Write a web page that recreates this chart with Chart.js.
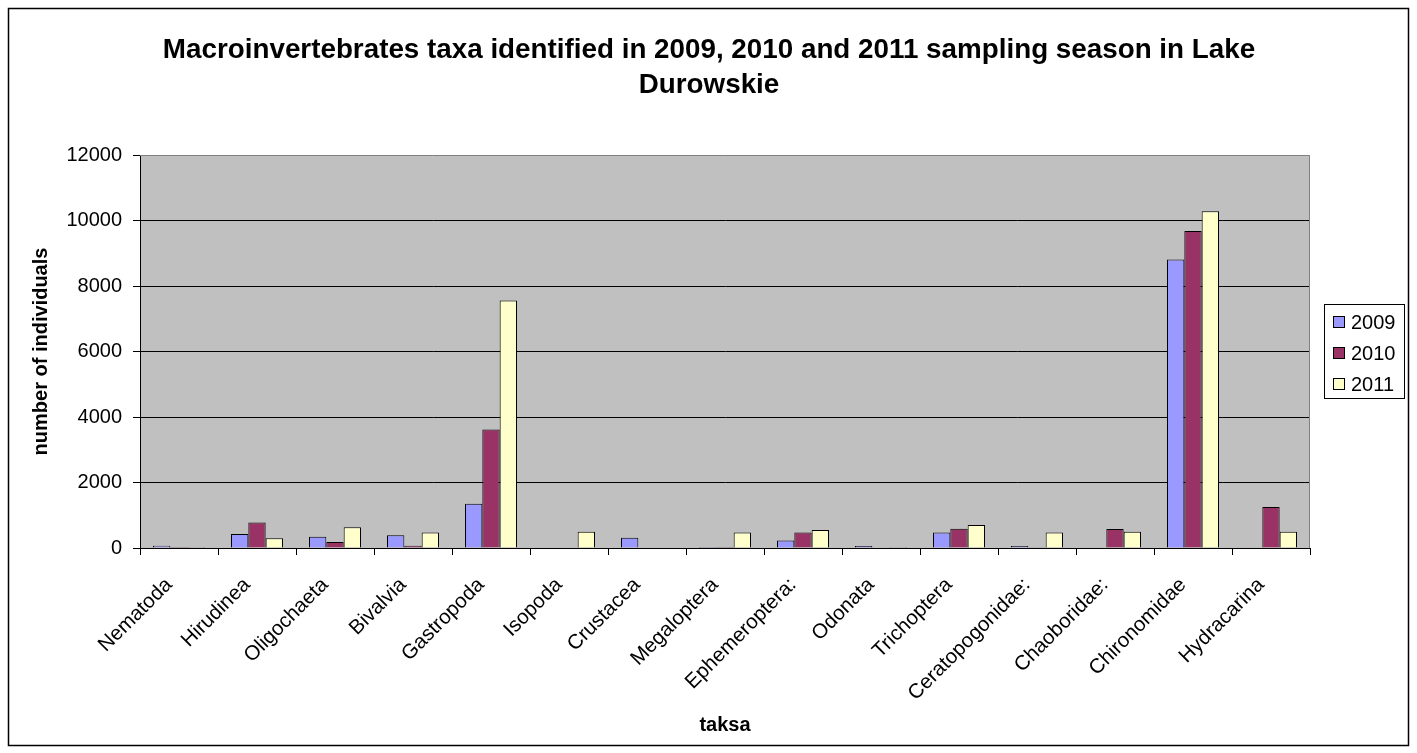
<!DOCTYPE html>
<html>
<head>
<meta charset="utf-8">
<title>Macroinvertebrates taxa - Lake Durowskie</title>
<script src="https://cdn.jsdelivr.net/npm/chart.js@4/dist/chart.umd.min.js"></script>
<style>
  html, body { margin:0; padding:0; background:#fff; }
  #wrap { width:1417px; height:753px; position:relative; }
</style>
</head>
<body>
<div id="wrap"><canvas id="chart" width="1417" height="753"></canvas></div>
<script>
// data
const taxa = ['Nematoda','Hirudinea','Oligochaeta','Bivalvia','Gastropoda','Isopoda','Crustacea',
  'Megaloptera','Ephemeroptera:','Odonata','Trichoptera','Ceratopogonidae:','Chaoboridae:','Chironomidae','Hydracarina'];
const years = ['2009','2010','2011'];
const y2009 = [70, 430, 340, 390, 1350, 0, 310, 30, 230, 60, 470, 60, 0, 8810, 0];
const y2010 = [30, 780, 180, 70, 3620, 0, 0, 30, 470, 0, 590, 20, 580, 9680, 1250];
const y2011 = [30, 300, 630, 470, 7560, 500, 0, 470, 550, 30, 700, 470, 500, 10280, 500];
const yTicks = [0, 2000, 4000, 6000, 8000, 10000, 12000];

const titleLines = ['Macroinvertebrates taxa identified in 2009, 2010 and 2011 sampling season in Lake', 'Durowskie'];
const yTitle = 'number of individuals';
const xTitle = 'taksa';
const colors = ['#9999FF', '#993366', '#FFFFCC'];

const FONT = '"Liberation Sans", Arial, sans-serif';
Chart.defaults.font.family = FONT;
Chart.defaults.font.size = 20;
Chart.defaults.color = '#000';

// frame, plot background, titles and legend drawn around the chart
const decor = {
  id:'decor',
  beforeDraw(chart){
    const c = chart.ctx, a = chart.chartArea;
    c.save();
    c.fillStyle = '#fff';
    c.fillRect(0, 0, chart.width, chart.height);
    c.fillStyle = '#C0C0C0';
    c.fillRect(a.left, a.top, a.right - a.left, a.bottom - a.top);
    c.restore();
  },
  afterDraw(chart){
    const c = chart.ctx, a = chart.chartArea;
    c.save();
    // plot border
    c.strokeStyle = '#808080'; c.lineWidth = 1;
    c.beginPath();
    c.moveTo(a.left, a.top + 0.5); c.lineTo(a.right - 0.5, a.top + 0.5); c.lineTo(a.right - 0.5, a.bottom);
    c.stroke();
    // outer frame
    c.strokeStyle = '#000'; c.lineWidth = 1.5;
    c.strokeRect(8.5, 8.5, 1400, 737);
    // title
    c.fillStyle = '#000';
    c.textAlign = 'center'; c.textBaseline = 'alphabetic';
    c.font = 'bold 27.8px ' + FONT;
    c.fillText(titleLines[0], 709, 58);
    c.fillText(titleLines[1], 709, 93);
    // axis titles
    c.font = 'bold 20px ' + FONT;
    c.textBaseline = 'middle';
    c.fillText(xTitle, 725, 725);
    c.translate(41, (a.top + a.bottom) / 2);
    c.rotate(-Math.PI / 2);
    c.fillText(yTitle, 0, 0);
    c.restore();
    // legend
    c.save();
    c.fillStyle = '#fff';
    c.fillRect(1324, 304, 80, 94);
    c.strokeStyle = '#000'; c.lineWidth = 1;
    c.strokeRect(1324.5, 304.5, 80, 94);
    c.font = '20px ' + FONT;
    c.textAlign = 'left'; c.textBaseline = 'middle';
    years.forEach((yr, i) => {
      const cy = 322 + i * 31;
      c.fillStyle = colors[i];
      c.fillRect(1333, cy - 6, 12, 12);
      c.strokeRect(1333.5, cy - 5.5, 11, 11);
      c.fillStyle = '#000';
      c.fillText(yr, 1351, cy + 1);
    });
    c.restore();
  }
};

const series = [y2009, y2010, y2011];
new Chart(document.getElementById('chart').getContext('2d'), {
  type:'bar',
  data:{
    labels: taxa,
    datasets: series.map((d, i) => ({
      label: years[i], data: d,
      backgroundColor: colors[i], borderColor:'#000', borderWidth:1,
      categoryPercentage: 0.667, barPercentage: 1
    }))
  },
  options:{
    responsive:false,
    animation:false,
    layout:{ padding:{ top:155, right:107, bottom:0, left:0 } },
    plugins:{ legend:{ display:false }, title:{ display:false }, tooltip:{ enabled:false } },
    scales:{
      x:{
        grid:{ offset:true, drawOnChartArea:false, tickLength:7, color:'#000' },
        border:{ color:'#000', width:1 },
        ticks:{ minRotation:45, maxRotation:45, padding:18, labelOffset:-10, font:{ size:20.5 } },
        afterFit(s){ s.height = 205; }
      },
      y:{
        min:0, max:12000,
        afterBuildTicks(s){ s.ticks = yTicks.map(v => ({ value:v })); },
        grid:{ color: ctx => ctx.tick && ctx.tick.value === 12000 ? 'rgba(0,0,0,0)' : '#000', tickColor:'#000', tickLength:7 },
        border:{ color:'#000', width:1 },
        ticks:{ padding:11, font:{ size:20 }, callback: v => String(v) },
        afterFit(s){ s.width = 140; }
      }
    }
  },
  plugins:[decor]
});
</script>
</body>
</html>
